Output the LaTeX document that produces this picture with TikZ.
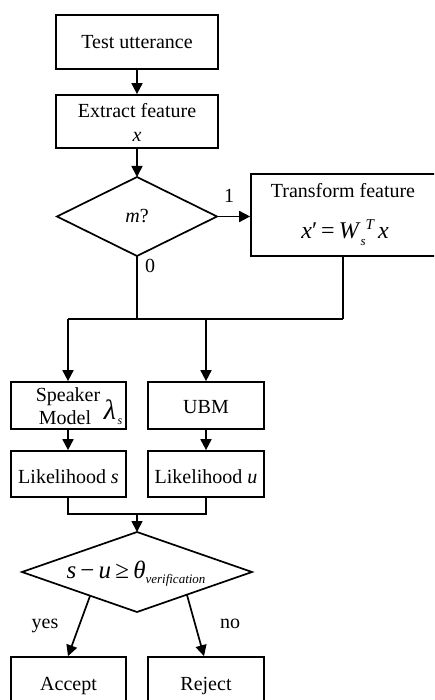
\documentclass[tikz,border=0pt]{standalone}
\usepackage{fontspec}
\setmainfont{Liberation Serif}
\usetikzlibrary{arrows.meta}
\begin{document}
\begin{tikzpicture}[x=1pt,y=-1pt,
  line width=1.7pt,
  txt/.style={font=\fontsize{20}{23}\selectfont, inner sep=0pt, align=center, anchor=base},
  box/.style={draw, line width=1.7pt, inner sep=0pt},
  arr/.style={-{Triangle[length=11pt,width=11pt]}},
  ]
\useasboundingbox (0,0) rectangle (434,700);
\clip (0,0) rectangle (434,700);
% boxes
\node[box, minimum width=162pt, minimum height=54pt] (test) at (137,42) {};
\node[txt] (testT) at (137,49) {Test utterance};
\node[box, minimum width=162pt, minimum height=53pt] (extract) at (137,121.5) {};
\node[txt] (extractT) at (137,118) {Extract feature};
\node[txt] (extractX) at (137,142) {\itshape x};
% diamond 1
\coordinate (d1t) at (137,177);
\coordinate (d1r) at (217,216.5);
\coordinate (d1b) at (137,256);
\coordinate (d1l) at (57,216.5);
\draw (d1t) -- (d1r) -- (d1b) -- (d1l) -- cycle;
\node[txt] (d1) at (137,223) {\textit{m}?};
% transform
\node[box, minimum width=186pt, minimum height=82pt] (trans) at (344,215) {};
\node[txt] (transT) at (343,198) {Transform feature};
\node[txt, font=\fontsize{24}{24}\selectfont] (transF) at (345,239) {\textit{x}′\,=\,\textit{W}\raisebox{-6pt}{\fontsize{13}{13}\selectfont\itshape s}\raisebox{9pt}{\fontsize{15}{15}\selectfont\itshape T}\,\textit{x}};
\node[txt] (one) at (229,203) {1};
\node[txt] (zero) at (150,272) {0};
% merge
\coordinate (m1) at (137,319);
\coordinate (m2) at (343,319);
\coordinate (mL) at (68,319);
\coordinate (mU) at (206,319);
% speaker & ubm
\node[box, minimum width=115pt, minimum height=47pt] (spk) at (68.5,405.5) {};
\node[txt] (spkT1) at (68,401) {Speaker};
\node[txt] (spkT2) at (65,424) {Model};
\node[txt, font=\fontsize{28}{28}\selectfont] (spkL) at (110,419) {\itshape λ};
\node[txt, font=\fontsize{12}{12}\selectfont] (spkS) at (120,424) {\itshape s};
\node[box, minimum width=116pt, minimum height=47pt] (ubm) at (206,405.5) {};
\node[txt] (ubmT) at (206,413) {UBM};
% likelihoods
\node[box, minimum width=115pt, minimum height=46pt] (ls) at (68.5,474) {};
\node[txt] (lsT) at (68.5,483) {Likelihood \textit{s}};
\node[box, minimum width=116pt, minimum height=46pt] (lu) at (206,474) {};
\node[txt] (luT) at (206,483) {Likelihood \textit{u}};
\coordinate (j1) at (68,514);
\coordinate (j2) at (206,514);
\coordinate (jm) at (137,514);
% diamond 2
\coordinate (d2t) at (137,532);
\coordinate (d2r) at (252,572);
\coordinate (d2b) at (137,612);
\coordinate (d2l) at (22,572);
\draw (d2t) -- (d2r) -- (d2b) -- (d2l) -- cycle;
\node[txt, font=\fontsize{25}{25}\selectfont] (d2) at (136,578) {\textit{s}\,−\,\textit{u}\,≥\,\textit{θ}\raisebox{-5pt}{\fontsize{13}{13}\selectfont\itshape verification}};
\coordinate (ya) at (90,596);
\coordinate (na) at (187,595);
\node[txt] (yes) at (45,628) {yes};
\node[txt] (no) at (230,628) {no};
% final boxes
\node[box, minimum width=115pt, minimum height=54pt] (acc) at (68.5,684) {};
\node[txt] (accT) at (68.5,690) {Accept};
\node[box, minimum width=116pt, minimum height=54pt] (rej) at (206,684) {};
\node[txt] (rejT) at (206,690) {Reject};
% connectors
\draw[arr] (test.south) -- (extract.north);
\draw[arr] (extract.south) -- (d1t);
\draw[arr] (d1r) -- (trans.west |- d1r);
\draw (d1b) -- (m1);
\draw (trans.south -| m2) -- (m2);
\draw (mL) -- (m2);
\draw[arr] (mL) -- (spk.north -| mL);
\draw[arr] (mU) -- (ubm.north);
\draw[arr] (spk.south -| mL) -- (ls.north -| mL);
\draw[arr] (ubm.south) -- (lu.north);
\draw (ls.south -| j1) -- (j1) -- (j2) -- (lu.south);
\draw[arr] (jm) -- (d2t);
\draw[arr] (ya) -- (acc.north -| mL);
\draw[arr] (na) -- (rej.north -| 204,0);
\end{tikzpicture}
\end{document}
